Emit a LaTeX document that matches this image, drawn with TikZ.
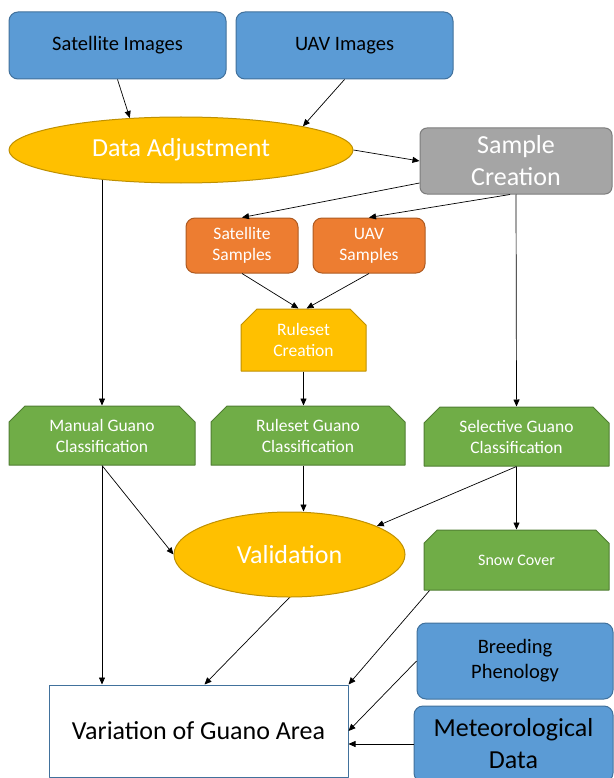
\documentclass[tikz,border=0pt]{standalone}
\usepackage{fontspec}
\setmainfont{Carlito}
\usetikzlibrary{arrows.meta, shapes, positioning}
\usepackage{xcolor}
\definecolor{boxblue}{RGB}{91,155,213}
\definecolor{boxblueline}{RGB}{65,113,156}
\definecolor{gold}{RGB}{255,192,0}
\definecolor{goldline}{RGB}{191,144,0}
\definecolor{boxgrey}{RGB}{165,165,165}
\definecolor{boxgreyline}{RGB}{125,125,125}
\definecolor{boxorange}{RGB}{237,125,49}
\definecolor{boxorangeline}{RGB}{174,90,33}
\definecolor{boxgreen}{RGB}{112,173,71}
\definecolor{boxgreenline}{RGB}{80,126,50}

\begin{document}
\begin{tikzpicture}[
                line join=bevel,
                bigtext/.style={font=\fontsize{26pt}{32pt}\selectfont},
                midtext/.style={font=\fontsize{20.5pt}{25pt}\selectfont},
                smalltext/.style={font=\fontsize{17.5pt}{21pt}\selectfont},
                bluebox/.style={shape=rectangle, rounded corners=9pt, fill=boxblue, draw=boxblueline, line width=1pt, align=center, inner sep=0pt},
                goldellipse/.style={shape=ellipse, fill=gold, draw=goldline, line width=1pt, text=white, inner sep=0pt},
                greybox/.style={shape=rectangle, rounded corners=7pt, fill=boxgrey, draw=boxgreyline, line width=1pt, text=white, align=center, inner sep=0pt},
                orangebox/.style={shape=rectangle, rounded corners=9pt, fill=boxorange, draw=boxorangeline, line width=1pt, text=white, align=center, inner sep=0pt},
                cutbox/.style={shape=chamfered rectangle, chamfered rectangle corners={north west, north east}, chamfered rectangle xsep=8pt, chamfered rectangle ysep=8pt, line width=1pt, text=white, align=center, inner sep=0pt},
                goldcut/.style={cutbox, fill=gold, draw=goldline},
                greencut/.style={cutbox, fill=boxgreen, draw=boxgreenline},
                resultbox/.style={shape=rectangle, fill=white, draw=boxblueline, line width=1pt, align=center, inner sep=0pt},
                flow/.style={-{Triangle[length=7pt, width=6pt]}, line width=0.7pt}
                ]
                \useasboundingbox (0pt, 0pt) rectangle (613pt, -778pt);

                %% Inputs
                \node[bluebox, midtext, minimum width=217pt, minimum height=67pt] (satimg) at (117.5pt, -45.5pt) {Satellite Images};
                \node[bluebox, midtext, minimum width=217pt, minimum height=67pt] (uavimg) at (344.5pt, -45.5pt) {UAV Images};

                \node[goldellipse, bigtext, minimum width=344pt, minimum height=66pt] (adjust) at (181pt, -150pt) {Data Adjustment};
                \node[greybox, bigtext, minimum width=192pt, minimum height=66pt] (sample) at (516pt, -161pt) {Sample\\Creation};

                %% Samples
                \node[orangebox, smalltext, minimum width=112pt, minimum height=55pt] (satsmp) at (242pt, -245.5pt) {Satellite\\Samples};
                \node[orangebox, smalltext, minimum width=112pt, minimum height=55pt] (uavsmp) at (369pt, -245.5pt) {UAV\\Samples};
                \node[goldcut, smalltext, minimum width=125pt, minimum height=62pt] (ruleset) at (303.5pt, -340pt) {Ruleset\\Creation};

                %% Classifications
                \node[greencut, smalltext, minimum width=186pt, minimum height=59pt] (manual) at (102pt, -435.5pt) {Manual Guano\\Classification};
                \node[greencut, smalltext, minimum width=194pt, minimum height=59pt] (rulecls) at (308pt, -435.5pt) {Ruleset Guano\\Classification};
                \node[greencut, smalltext, minimum width=185pt, minimum height=59pt] (selcls) at (516.5pt, -436.5pt) {Selective Guano\\Classification};

                \node[goldellipse, bigtext, minimum width=231pt, minimum height=85pt] (valid) at (289.5pt, -554.5pt) {Validation};
                \node[greencut, font=\fontsize{16pt}{19pt}\selectfont, minimum width=185pt, minimum height=60pt] (snow) at (516.5pt, -560pt) {Snow Cover};

                %% Result
                \node[bluebox, midtext, minimum width=196pt, minimum height=76pt] (breed) at (515pt, -661pt) {Breeding\\Phenology};
                \node[bluebox, bigtext, minimum width=199pt, minimum height=76pt] (meteo) at (513.5pt, -744pt) {Meteorological\\Data};
                \node[resultbox, bigtext, minimum width=299pt, minimum height=92pt] (var) at (198.5pt, -731pt) {Variation of Guano Area};

                %% Arrows
                \draw[flow] (satimg.south) -- (adjust.148);
                \draw[flow] (uavimg.south) -- (adjust.11);
                \draw[flow] (adjust.east) -- (sample.west);
                \draw[flow] ([yshift=-22pt]sample.west) -- (satsmp.north);
                \draw[flow] ([xshift=-6pt]sample.south) -- (uavsmp.north);
                \draw[flow] (adjust.200 -| manual.north) -- (manual.north);
                \draw[flow] (sample.south) -- (selcls.north);
                \draw[flow] (satsmp.south) -- ([xshift=-5pt]ruleset.north);
                \draw[flow] (uavsmp.south) -- ([xshift=3pt]ruleset.north);
                \draw[flow] (ruleset.south) -- (ruleset.south |- rulecls.north);
                \draw[flow] (manual.south) -- (valid.west);
                \draw[flow] (manual.south) -- (manual.south |- var.north);
                \draw[flow] (ruleset.south |- rulecls.south) -- (ruleset.south |- valid.north);
                \draw[flow] (selcls.south) -- (valid.18);
                \draw[flow] (selcls.south) -- (snow.north);
                \draw[flow] (valid.south) -- ([xshift=6pt]var.north);
                \draw[flow] ([xshift=6pt]snow.south west) -- (var.north east);
                \draw[flow] (breed.west) -- (var.east);
                \draw[flow] (meteo.west) -- (meteo.west -| var.east);
\end{tikzpicture}
\end{document}
